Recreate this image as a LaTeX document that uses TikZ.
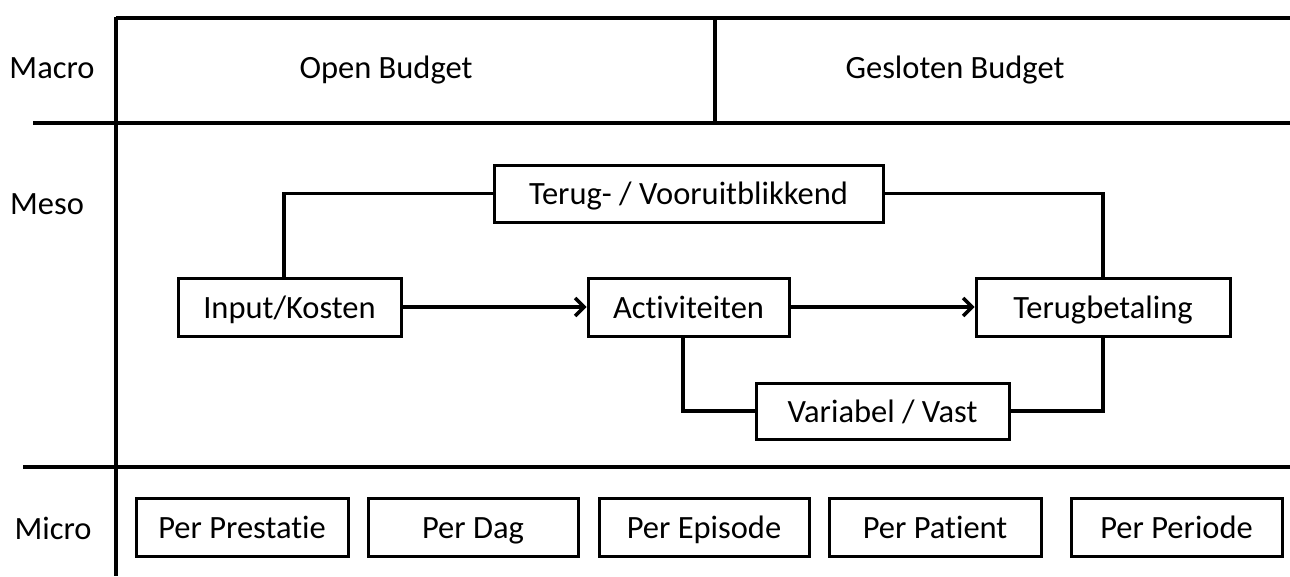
\documentclass[tikz,border=0pt]{standalone}
\usepackage{fontspec}
\setmainfont{Carlito}[Ligatures={NoCommon}]
\usetikzlibrary{arrows.meta}
\begin{document}
\begin{tikzpicture}[x=1pt,y=-1pt,
  frameline/.style={line width=3.5pt},
  boxnode/.style={draw,line width=3pt,inner sep=0pt,anchor=center,text height=26pt,text depth=4pt,font=\fontsize{32.5}{38}\selectfont},
  lbl/.style={inner sep=0pt,anchor=center,text height=26pt,text depth=4pt,font=\fontsize{32.5}{38}\selectfont},
  conn/.style={line width=3.5pt},
  arr/.style={line width=3.5pt,-{Straight Barb[length=9pt,width=18pt,line width=3.5pt]}}]
\useasboundingbox (0,0) rectangle (1290,576);
% frame
\draw[frameline] (116,17) -- (116,576);
\draw[frameline] (116,18) -- (1290,18);
\draw[frameline] (33,123) -- (1290,123);
\draw[frameline] (715,18) -- (715,123);
\draw[frameline] (23,467) -- (1290,467);
% row labels
\node[lbl] (macro) at (52,67) {Macro};
\node[lbl] (meso) at (47,203) {Meso};
\node[lbl] (micro) at (53,528) {Micro};
\node[lbl] (open) at (386,67) {Open Budget};
\node[lbl] (gesl) at (955,67) {Gesloten Budget};
% meso boxes
\node[boxnode,minimum width=223pt,minimum height=58pt] (in) at (289.5,307) {Input/Kosten};
\node[boxnode,minimum width=201pt,minimum height=58pt] (act) at (688.5,307) {Activiteiten};
\node[boxnode,minimum width=254pt,minimum height=58pt] (tb) at (1103,307) {Terugbetaling};
\node[boxnode,minimum width=389pt,minimum height=57pt] (terug) at (688.5,193.5) {Terug- / Vooruitblikkend};
\node[boxnode,minimum width=253pt,minimum height=56pt] (var) at (882.5,411) {Variabel / Vast};
% connectors
\draw[arr] (in.east) -- (act.west);
\draw[arr] (act.east) -- (tb.west);
\draw[conn] ([xshift=-5.5pt]in.north) |- (terug.west);
\draw[conn] (terug.east) -| (tb.north);
\draw[conn] ([xshift=-5.5pt]act.south) |- (var.west);
\draw[conn] (var.east) -| (tb.south);
% micro boxes
\node[boxnode,minimum width=212pt,minimum height=58pt] (m1) at (242,527) {Per Prestatie};
\node[boxnode,minimum width=210pt,minimum height=58pt] (m2) at (473,527) {Per Dag};
\node[boxnode,minimum width=210pt,minimum height=58pt] (m3) at (704,527) {Per Episode};
\node[boxnode,minimum width=212pt,minimum height=58pt] (m4) at (935,527) {Per Patient};
\node[boxnode,minimum width=211pt,minimum height=58pt] (m5) at (1176.5,527) {Per Periode};
\end{tikzpicture}
\end{document}
